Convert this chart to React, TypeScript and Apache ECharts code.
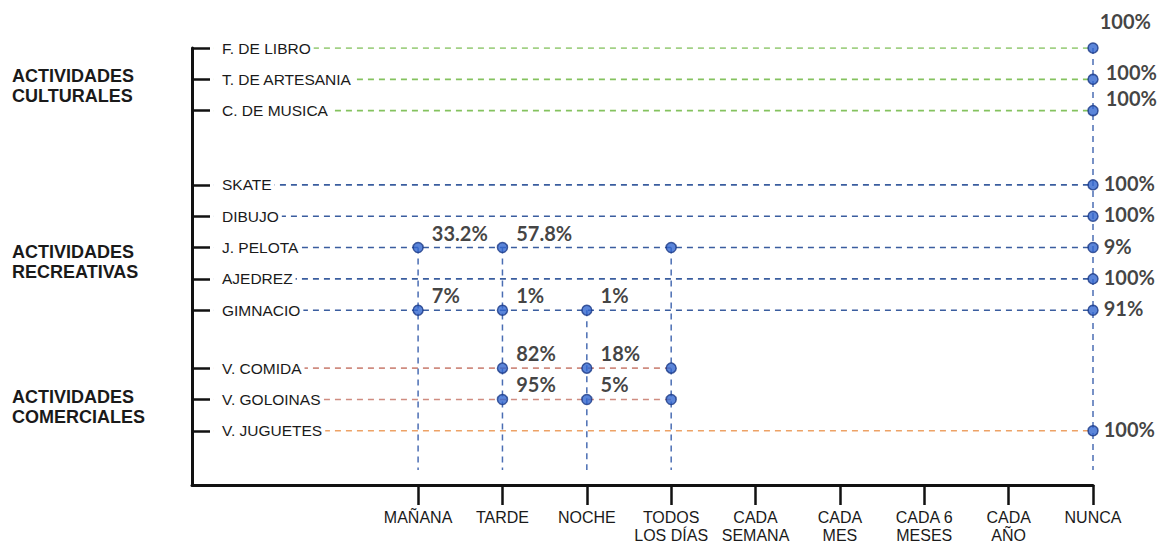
import { useEffect, useRef } from "react";
import * as echarts from "echarts";

// ---------- data ----------
const FREQUENCIES = [
  "MAÑANA",
  "TARDE",
  "NOCHE",
  "TODOS\nLOS DÍAS",
  "CADA\nSEMANA",
  "CADA\nMES",
  "CADA 6\nMESES",
  "CADA\nAÑO",
  "NUNCA",
];

const GROUPS = ["ACTIVIDADES\nCULTURALES", "ACTIVIDADES\nRECREATIVAS", "ACTIVIDADES\nCOMERCIALES"];

const ACTIVITIES = [
  "F. DE LIBRO",
  "T. DE ARTESANIA",
  "C. DE MUSICA",
  "SKATE",
  "DIBUJO",
  "J. PELOTA",
  "AJEDREZ",
  "GIMNACIO",
  "V. COMIDA",
  "V. GOLOINAS",
  "V. JUGUETES",
];

const ACTIVITY_GROUP = [0, 0, 0, 1, 1, 1, 1, 1, 2, 2, 2];

// percent per frequency; "" = point shown without a value, null = no point
type V = number | "" | null;
const F_DE_LIBRO: V[] = [null, null, null, null, null, null, null, null, 100];
const T_DE_ARTESANIA: V[] = [null, null, null, null, null, null, null, null, 100];
const C_DE_MUSICA: V[] = [null, null, null, null, null, null, null, null, 100];
const SKATE: V[] = [null, null, null, null, null, null, null, null, 100];
const DIBUJO: V[] = [null, null, null, null, null, null, null, null, 100];
const J_PELOTA: V[] = [33.2, 57.8, null, "", null, null, null, null, 9];
const AJEDREZ: V[] = [null, null, null, null, null, null, null, null, 100];
const GIMNACIO: V[] = [7, 1, 1, null, null, null, null, null, 91];
const V_COMIDA: V[] = [null, 82, 18, "", null, null, null, null, null];
const V_GOLOINAS: V[] = [null, 95, 5, "", null, null, null, null, null];
const V_JUGUETES: V[] = [null, null, null, null, null, null, null, null, 100];

const VALUES: V[][] = [
  F_DE_LIBRO,
  T_DE_ARTESANIA,
  C_DE_MUSICA,
  SKATE,
  DIBUJO,
  J_PELOTA,
  AJEDREZ,
  GIMNACIO,
  V_COMIDA,
  V_GOLOINAS,
  V_JUGUETES,
];

// ---------- layout / style constants ----------
const X_MIN = -2.68;
const X_MAX = 8;
const Y_MAX = 13.95;
const GROUP_OFFSETS = [0, 1.37, 2.22];
const LINE_X_START = -2.42;
const LINE_BOTTOM = 13.47;

const GROUP_LINE_COLORS = ["#84c25e", "#3a5d9f", "#cf8c80"];
const LINE_COLOR_OVERRIDE: Record<string, string> = { "V. JUGUETES": "#eda266" };
const VERTICAL_COLOR = "#4a6db3";
const DASH = [6, 5];

const NUNCA_LABEL_OFFSET: Record<string, number[]> = {
  "F. DE LIBRO": [-4, -27],
  "T. DE ARTESANIA": [2, -7],
  "C. DE MUSICA": [2, -13],
};

const GROUP_LABEL_TOP = [66, 242, 387];

const AXIS_FONT = '"Liberation Sans", Arial, sans-serif';
const VALUE_FONT = 'Lato, "Open Sans", sans-serif';

const rowPos = (i: number) => i + GROUP_OFFSETS[ACTIVITY_GROUP[i]];
const ROW_POSITIONS = ACTIVITIES.map((_, i) => rowPos(i));
const COL_INDEXES = FREQUENCIES.map((_, i) => i);

export default function App() {
  const ref = useRef<HTMLDivElement>(null);

  useEffect(() => {
    if (!ref.current) return;
    const chart = echarts.init(ref.current, undefined, { renderer: "svg" });

    const series: any[] = [];

    // horizontal dashed lines
    ACTIVITIES.forEach((name, i) => {
      const vals = VALUES[i];
      let last = -1;
      vals.forEach((v, c) => {
        if (v !== null) last = c;
      });
      if (last < 0) return;
      const y = rowPos(i);
      series.push({
        type: "line",
        z: 1,
        silent: true,
        symbol: "none",
        data: [
          [LINE_X_START, y],
          [last, y],
        ],
        lineStyle: {
          color: LINE_COLOR_OVERRIDE[name] || GROUP_LINE_COLORS[ACTIVITY_GROUP[i]],
          width: 1.6,
          type: DASH,
        },
      });
    });

    // vertical dashed lines
    COL_INDEXES.forEach((c) => {
      let top = Infinity;
      ACTIVITIES.forEach((_, i) => {
        if (VALUES[i][c] !== null) top = Math.min(top, rowPos(i));
      });
      if (!isFinite(top)) return;
      series.push({
        type: "line",
        z: 1,
        silent: true,
        symbol: "none",
        data: [
          [c, top],
          [c, LINE_BOTTOM],
        ],
        lineStyle: { color: VERTICAL_COLOR, width: 1.5, type: DASH },
      });
    });

    // points
    const points: any[] = [];
    ACTIVITIES.forEach((name, i) => {
      VALUES[i].forEach((v, c) => {
        if (v === null) return;
        const isLast = c === FREQUENCIES.length - 1;
        const item: any = { value: [c, rowPos(i), v] };
        if (isLast) {
          item.label = {
            position: "right",
            distance: 5,
            offset: NUNCA_LABEL_OFFSET[name] || [0, -2],
          };
        }
        points.push(item);
      });
    });

    series.push({
      type: "scatter",
      z: 5,
      symbol: "circle",
      symbolSize: 10,
      data: points,
      itemStyle: { color: "#3267cf", borderColor: "#1c3a86", borderWidth: 1.5 },
      label: {
        show: true,
        position: "right",
        distance: 5,
        offset: [3, -15],
        formatter: (p: any) => (p.value[2] === "" ? "" : `${p.value[2]}%`),
        fontFamily: VALUE_FONT,
        fontWeight: "bold",
        fontSize: 20,
        color: "#111",
      },
    });

    const findRow = (v: number) => {
      const idx = ROW_POSITIONS.findIndex((p) => Math.abs(p - v) < 0.01);
      return idx >= 0 ? ACTIVITIES[idx] : "";
    };

    chart.setOption({
      animation: false,
      backgroundColor: "#ffffff",
      grid: { left: 192, right: 76, top: 48, bottom: 57, containLabel: false },
      xAxis: {
        type: "value",
        min: X_MIN,
        max: X_MAX,
        splitLine: { show: false },
        axisLine: { show: true, onZero: false, lineStyle: { color: "#111", width: 3 } },
        axisTick: {
          show: true,
          customValues: COL_INDEXES,
          length: 20,
          lineStyle: { color: "#111", width: 2.5 },
        },
        axisLabel: {
          customValues: COL_INDEXES,
          formatter: (v: number) => FREQUENCIES[Math.round(v)] ?? "",
          fontFamily: AXIS_FONT,
          fontSize: 16,
          lineHeight: 18,
          color: "#1a1a1a",
          margin: 23,
          verticalAlign: "top",
        },
      },
      yAxis: {
        type: "value",
        inverse: true,
        min: 0,
        max: Y_MAX,
        z: 10,
        splitLine: { show: false },
        axisLine: { show: true, onZero: false, lineStyle: { color: "#111", width: 3 } },
        axisTick: {
          show: true,
          inside: true,
          customValues: ROW_POSITIONS,
          length: 18,
          lineStyle: { color: "#111", width: 2.5 },
        },
        axisLabel: {
          inside: true,
          customValues: ROW_POSITIONS,
          formatter: (v: number) => findRow(v),
          fontFamily: AXIS_FONT,
          fontSize: 15.5,
          color: "#1a1a1a",
          margin: 22,
          padding: [2, 3, 2, 8],
          backgroundColor: "#ffffff",
        },
      },
      graphic: GROUPS.map((g, i) => ({
        type: "text",
        left: 12,
        top: GROUP_LABEL_TOP[i],
        style: {
          text: g,
          font: `bold 18px ${AXIS_FONT}`,
          fill: "#1a1a1a",
          lineHeight: 20,
        },
      })),
      series,
    });

    return () => chart.dispose();
  }, []);

  return (
    <div
      ref={ref}
      style={{ position: "fixed", left: 0, top: 0, width: 1169, height: 544, background: "#fff" }}
    />
  );
}
